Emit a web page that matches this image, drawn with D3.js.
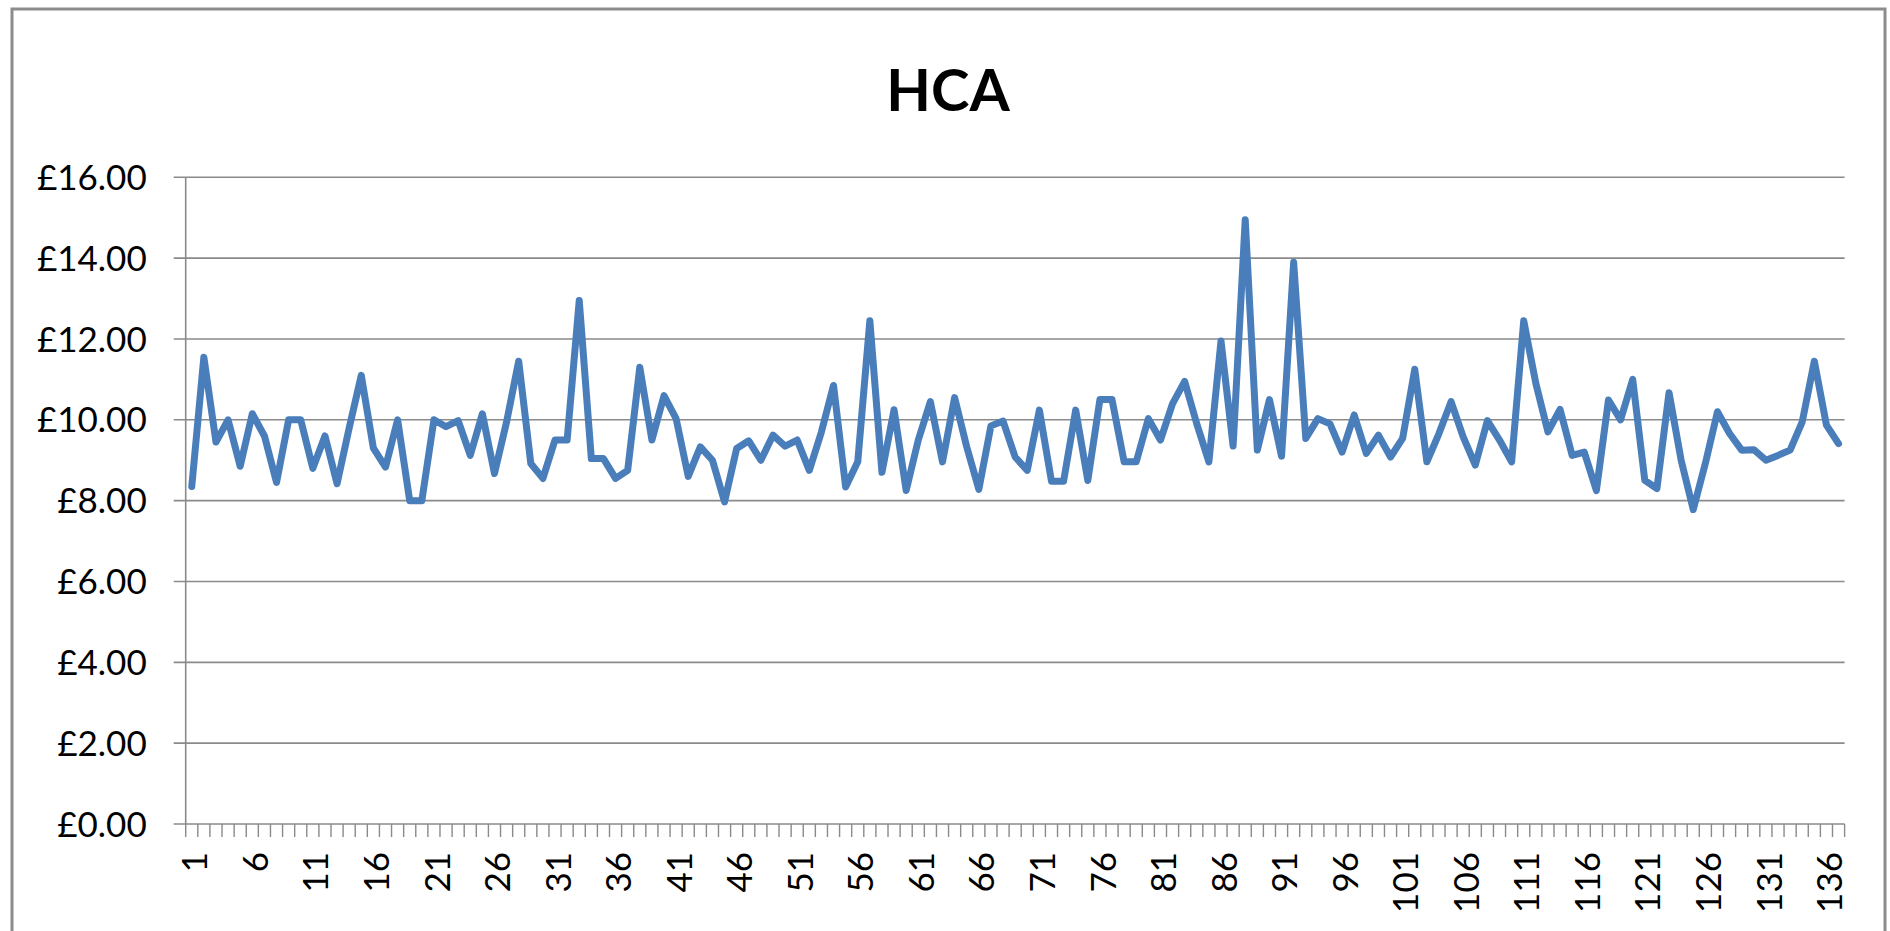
<!DOCTYPE html>
<html>
<head>
<meta charset="utf-8">
<script src="https://cdn.jsdelivr.net/npm/d3@7"></script>
<style>
    body { margin: 0; background: #fff; }
    svg { display: block; font-family: Lato, "Liberation Sans", sans-serif; }
</style>
</head>
<body>
<svg id="chart" width="1890" height="931"></svg>
<script>
// Chart data
var title = "HCA";

var days = d3.range(1, 138);

var hcaValues = [
    8.35, 11.55, 9.45, 10.0, 8.85, 10.15, 9.6, 8.45, 10.0, 10.0,
    8.8, 9.6, 8.42, 9.8, 11.1, 9.3, 8.83, 10.0, 8.0, 8.0,
    10.0, 9.83, 9.98, 9.12, 10.15, 8.67, 9.95, 11.45, 8.92, 8.55,
    9.5, 9.5, 12.95, 9.04, 9.04, 8.55, 8.75, 11.3, 9.5, 10.6,
    10.03, 8.6, 9.33, 9.0, 7.97, 9.29, 9.48, 9.0, 9.62, 9.35,
    9.5, 8.75, 9.7, 10.85, 8.34, 8.96, 12.45, 8.7, 10.25, 8.25,
    9.5, 10.45, 8.96, 10.55, 9.33, 8.28, 9.85, 9.97, 9.08, 8.75,
    10.24, 8.48, 8.48, 10.24, 8.5, 10.5, 10.5, 8.96, 8.96, 10.03,
    9.5, 10.4, 10.95, 9.9, 8.96, 11.95, 9.35, 14.95, 9.25, 10.5,
    9.1, 13.9, 9.54, 10.03, 9.9, 9.2, 10.12, 9.17, 9.62, 9.08,
    9.54, 11.25, 8.96, 9.66, 10.45, 9.58, 8.88, 9.98, 9.5, 8.96,
    12.45, 10.9, 9.7, 10.26, 9.12, 9.2, 8.25, 10.49, 10.0, 11.0,
    8.5, 8.3, 10.67, 9.0, 7.78, 8.92, 10.2, 9.66, 9.25, 9.26,
    9.0, 9.12, 9.25, 9.95, 11.45, 9.87, 9.41
];

var yTicks = [0, 2, 4, 6, 8, 10, 12, 14, 16];

// Every fifth day gets a label
var xLabels = [1, 6, 11, 16, 21, 26, 31, 36, 41, 46, 51, 56, 61, 66,
    71, 76, 81, 86, 91, 96, 101, 106, 111, 116, 121, 126, 131, 136];

var plot = { left: 185.7, right: 1844.6, top: 177.3, bottom: 824 };
var gridColor = "#8a8a8a";
var lineColor = "#4a7ebb";

var svg = d3.select("#chart");

// Outer chart border
svg.append("rect")
    .attr("x", 12).attr("y", 9)
    .attr("width", 1873).attr("height", 940)
    .attr("fill", "#fff")
    .attr("stroke", "#8c8c8c")
    .attr("stroke-width", 3);

var x = d3.scaleBand()
    .domain(days)
    .range([plot.left, plot.right])
    .padding(0);

var y = d3.scaleLinear()
    .domain([0, 16])
    .range([plot.bottom, plot.top]);

// Title
svg.append("text")
    .attr("x", 948)
    .attr("y", 111)
    .attr("text-anchor", "middle")
    .attr("font-size", 58)
    .attr("font-weight", "bold")
    .attr("fill", "#000")
    .text(title);

// Horizontal gridlines (extended left to form the tick marks)
svg.append("g")
    .selectAll("line")
    .data(yTicks)
    .join("line")
    .attr("x1", plot.left - 12)
    .attr("x2", plot.right)
    .attr("y1", function(d) { return y(d); })
    .attr("y2", function(d) { return y(d); })
    .attr("stroke", gridColor)
    .attr("stroke-width", 1.6);

// Y tick labels
svg.append("g")
    .selectAll("text")
    .data(yTicks)
    .join("text")
    .attr("x", plot.left - 39)
    .attr("y", function(d) { return y(d); })
    .attr("dy", "0.36em")
    .attr("text-anchor", "end")
    .attr("font-size", 35)
    .attr("fill", "#000")
    .text(function(d) { return "£" + d.toFixed(2); });

// Y axis line
svg.append("line")
    .attr("x1", plot.left).attr("x2", plot.left)
    .attr("y1", plot.top).attr("y2", plot.bottom)
    .attr("stroke", gridColor)
    .attr("stroke-width", 1.6);

// X tick marks sit between categories
var boundaries = days.map(function(d) { return x(d); }).concat([plot.right]);
svg.append("g")
    .selectAll("line")
    .data(boundaries)
    .join("line")
    .attr("x1", function(d) { return d; })
    .attr("x2", function(d) { return d; })
    .attr("y1", plot.bottom)
    .attr("y2", plot.bottom + 13)
    .attr("stroke", gridColor)
    .attr("stroke-width", 1.4);

// X tick labels, rotated
svg.append("g")
    .selectAll("text")
    .data(xLabels)
    .join("text")
    .attr("transform", function(d) {
        var cx = x(d) + x.bandwidth() / 2 + 3;
        return "translate(" + cx + "," + (plot.bottom + 28) + ") rotate(-90)";
    })
    .attr("dy", "0.36em")
    .attr("text-anchor", "end")
    .attr("font-size", 35)
    .attr("fill", "#000")
    .text(function(d) { return d; });

// The series line
var line = d3.line()
    .x(function(d, i) { return x(days[i]) + x.bandwidth() / 2; })
    .y(function(d) { return y(d); });

svg.append("path")
    .datum(hcaValues)
    .attr("d", line)
    .attr("fill", "none")
    .attr("stroke", lineColor)
    .attr("stroke-width", 7)
    .attr("stroke-linejoin", "round")
    .attr("stroke-linecap", "round");
</script>
</body>
</html>
